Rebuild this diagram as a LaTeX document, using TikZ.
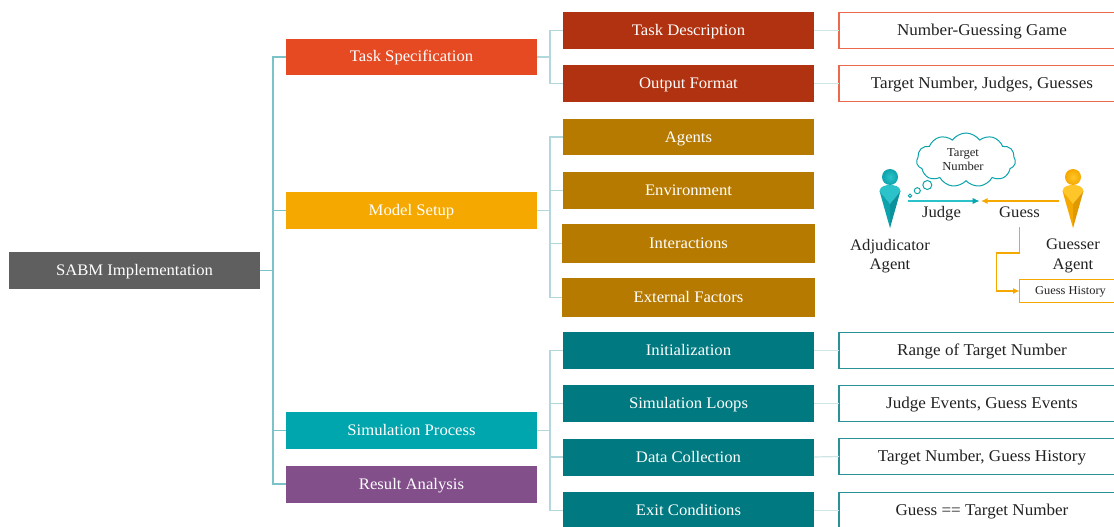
\documentclass[tikz,border=0pt]{standalone}
\usepackage{fontspec}
\setmainfont[FakeStretch=1.035]{Liberation Serif}
\usetikzlibrary{shapes.symbols,arrows.meta}
\definecolor{cRoot}{HTML}{5F5F5F}
\definecolor{cTask}{HTML}{E64A23}
\definecolor{cModel}{HTML}{F5A800}
\definecolor{cSim}{HTML}{00A6AD}
\definecolor{cRes}{HTML}{824F8B}
\definecolor{cTaskD}{HTML}{B13210}
\definecolor{cModelD}{HTML}{B67A00}
\definecolor{cSimD}{HTML}{007A80}
\definecolor{lnA}{HTML}{7CC3C9}
\definecolor{lnB}{HTML}{B2D8DD}
\definecolor{lnC}{HTML}{CDE5E6}
\definecolor{cTxt}{HTML}{222222}
\definecolor{cLeafA}{HTML}{EC6A4C}
\definecolor{cLeafB}{HTML}{2A9296}
\definecolor{tealL}{HTML}{2CC2CA}
\definecolor{tealM}{HTML}{0CA3AC}
\definecolor{tealD}{HTML}{0A939C}
\definecolor{orgL}{HTML}{FFC629}
\definecolor{orgM}{HTML}{F5A800}
\definecolor{orgD}{HTML}{E09A00}
\tikzset{
  x=1pt,y=-1pt,
  boxbase/.style={rectangle,inner sep=0pt,outer sep=0pt,text height=12.5pt,text depth=2.5pt,font=\fontsize{16.1}{18}\selectfont},
  solid box/.style={boxbase,text=white,fill=#1,minimum width=251pt},
  leaf box/.style={boxbase,text=cTxt,fill=white,draw=#1,line width=1.3pt,minimum width=286pt,font=\fontsize{16.5}{18}\selectfont},
  trunk/.style={draw=lnA,line width=1.3pt},
  branch/.style={draw=lnB,line width=1.2pt},
  twig/.style={draw=lnC,line width=1.2pt},
  plain text/.style={inner sep=0pt,text=cTxt,align=center,font=\fontsize{16.1}{19.5}\selectfont},
  bubble/.style={circle,draw=tealM,line width=1pt,fill=white,inner sep=0pt,minimum size=#1},
  flow/.style={line width=1.1pt,-{Latex[length=6.5pt,width=6pt]}},
}
\newcommand{\agentfig}[6]{%
  \begin{scope}[shift={(#2,0)}]
    \shade[inner color=#4,outer color=#3] (0,177) circle (8);
    \fill[#4] (-10.5,191) .. controls (-10,186) and (-4,185) .. (0,185) .. controls (4,185) and (10,186) .. (10.5,191) -- (0,204) -- cycle;
    \fill[#3] (-10.5,191) -- (0,204) -- (0,228) -- cycle;
    \fill[#6] (10.5,191) -- (0,204) -- (0,228) -- cycle;
    \coordinate (#1) at (0,204);
  \end{scope}}
\begin{document}
\begin{tikzpicture}
\useasboundingbox (0,0) rectangle (1114,527);
\fill[white] (0,0) rectangle (1114,527);
\begin{scope}
\clip (0,0) rectangle (1114,527);
% level 0
\node[solid box=cRoot,minimum height=37pt] (root) at (134.5,270.5) {SABM Implementation};
% level 1
\node[solid box=cTask,minimum height=36.5pt] (task) at (411.5,57) {Task Specification};
\node[solid box=cModel,minimum height=37pt] (model) at (411.5,210.5) {Model Setup};
\node[solid box=cSim,minimum height=37pt] (sim) at (411.5,430.5) {Simulation Process};
\node[solid box=cRes,minimum height=37pt] (res) at (411.5,484) {Result Analysis};
% level 2
\node[solid box=cTaskD,minimum height=37pt] (td) at (688.5,30.5) {Task Description};
\node[solid box=cTaskD,minimum height=37pt] (of) at (688.5,83.5) {Output Format};
\node[solid box=cModelD,minimum height=36.5pt] (ag) at (688.5,137) {Agents};
\node[solid box=cModelD,minimum height=37pt] (env) at (688.5,190.5) {Environment};
\node[solid box=cModelD,minimum height=39pt,minimum width=253pt] (int) at (688.5,243.5) {Interactions};
\node[solid box=cModelD,minimum height=39pt,minimum width=253pt] (ext) at (688.5,297.5) {External Factors};
\node[solid box=cSimD,minimum height=37pt] (ini) at (688.5,350.5) {Initialization};
\node[solid box=cSimD,minimum height=37pt] (loop) at (688.5,403.5) {Simulation Loops};
\node[solid box=cSimD,minimum height=37pt] (data) at (688.5,457) {Data Collection};
\node[solid box=cSimD,minimum height=37pt] (exit) at (688.5,510.5) {Exit Conditions};
% level 3
\node[leaf box=cLeafA,minimum height=36.5pt] (l1) at (982,30.5) {Number-Guessing Game};
\node[leaf box=cLeafA,minimum height=36.5pt] (l2) at (982,83.5) {Target Number, Judges, Guesses};
\node[leaf box=cLeafB,minimum height=36.5pt] (l3) at (982,350.5) {Range of Target Number};
\node[leaf box=cLeafB,minimum height=36.5pt] (l4) at (982,403.5) {Judge Events, Guess Events};
\node[leaf box=cLeafB,minimum height=36.5pt] (l5) at (982,456.5) {Target Number, Guess History};
\node[leaf box=cLeafB,minimum height=36.5pt] (l6) at (982,510.5) {Guess == Target Number};
% connectors
\coordinate (busA) at (273,270.5);
\coordinate (busT) at (550,57);
\coordinate (busM) at (550,210.5);
\coordinate (busS) at (550,430.5);
\draw[trunk] (root.east) -- (busA);
\draw[trunk] (busA) |- (task.west);
\draw[trunk] (busA) |- (model.west);
\draw[trunk] (busA) |- (sim.west);
\draw[trunk] (busA) |- (res.west);
\draw[branch] (task.east) -- (busT);
\draw[branch] (busT) |- (td.west);
\draw[branch] (busT) |- (of.west);
\draw[branch] (model.east) -- (busM);
\draw[branch] (busM) |- (ag.west);
\draw[branch] (busM) |- (env.west);
\draw[branch] (busM) |- (int.west);
\draw[branch] (busM) |- (ext.west);
\draw[branch] (sim.east) -- (busS);
\draw[branch] (busS) |- (ini.west);
\draw[branch] (busS) |- (loop.west);
\draw[branch] (busS) |- (data.west);
\draw[branch] (busS) |- (exit.west);
\draw[twig] (td.east) -- (l1.west);
\draw[twig] (of.east) -- (l2.west);
\draw[twig] (ini.east) -- (l3.west);
\draw[twig] (loop.east) -- (l4.west);
\draw[twig] (data.east) -- (l5.west);
\draw[twig] (exit.east) -- (l6.west);
% agents
\agentfig{adjf}{890}{tealM}{tealL}{tealL}{tealD}
\agentfig{gusf}{1073}{orgM}{orgL}{orgL}{orgD}
\node[plain text] (adjt) at (890,256) {Adjudicator\\Agent};
\node[plain text] (gust) at (1073,256) {Guesser\\Agent};
\node[plain text,text height=12.5pt,text depth=2.5pt] (judge) at (941.5,212.5) {Judge};
\node[plain text,text height=12.5pt,text depth=2.5pt] (guess) at (1019.5,212.5) {Guess};
% cloud
\node[cloud,cloud puffs=11,cloud puff arc=110,aspect=1.8,draw=tealM,line width=1pt,fill=white,minimum width=99pt,minimum height=54pt,inner sep=0pt] (cl) at (966,160) {};
\node[inner sep=0pt,text=cTxt,align=center,font=\fontsize{12.2}{14}\selectfont] (cltxt) at (963,159.5) {Target\\Number};
\node[bubble=9pt] (b1) at (927.3,185) {};
\node[bubble=6pt] (b2) at (917.3,190.7) {};
\node[bubble=3.4pt] (b3) at (910,195.7) {};
% arrows
\coordinate (meet) at (981,201);
\coordinate (adjout) at (908,201);
\coordinate (gusout) at (1059,201);
\draw[flow,draw=tealL,-{Latex[length=7pt,width=6.5pt,color=tealM]}] (adjout) -- (979.5,201);
\draw[flow,draw=orgM] (gusout) -- (meet);
% guess history
\node[boxbase,text=cTxt,fill=white,draw=orgM,line width=1.2pt,minimum width=110pt,minimum height=23pt,anchor=west,text height=8.5pt,text depth=2pt,font=\fontsize{12}{13}\selectfont] (gh) at (1019.5,291) {\hspace{-8pt}Guess History};
\coordinate (gb) at (1019.5,227);
\draw[flow,draw=orgM] (gb) |- (996.5,253) |- (gh.west);
\end{scope}
\end{tikzpicture}
\end{document}
